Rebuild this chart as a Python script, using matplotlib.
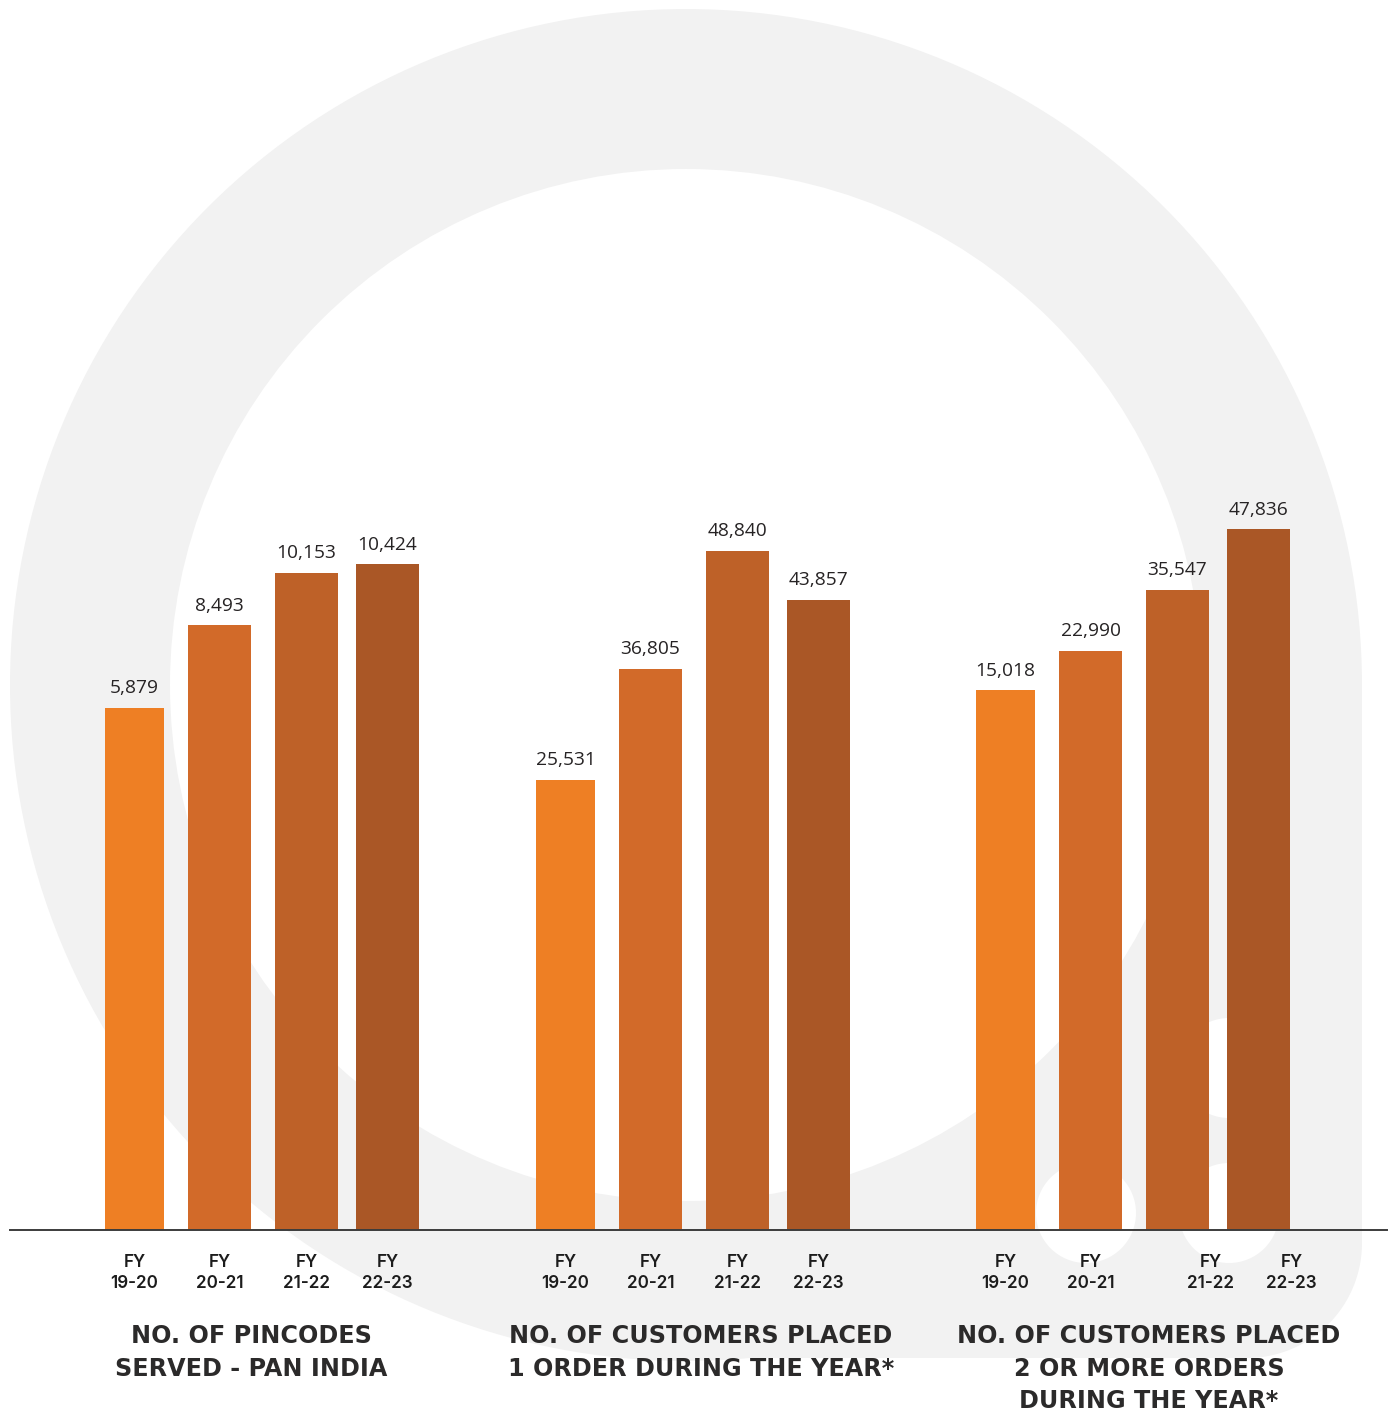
import numpy as np
import matplotlib
matplotlib.use("Agg")
import matplotlib.pyplot as plt
from matplotlib.patches import Circle, Polygon
from matplotlib.lines import Line2D

# ---------------- data ----------------
fiscal_years = ["19-20", "20-21", "21-22", "22-23"]
pincodes_served = [5879, 8493, 10153, 10424]
customers_one_order = [25531, 36805, 48840, 43857]
customers_repeat = [15018, 22990, 35547, 47836]
group_titles = [
    ["NO. OF PINCODES", "SERVED - PAN INDIA"],
    ["NO. OF CUSTOMERS PLACED", "1 ORDER DURING THE YEAR*"],
    ["NO. OF CUSTOMERS PLACED", "2 OR MORE ORDERS", "DURING THE YEAR*"],
]
series = [pincodes_served, customers_one_order, customers_repeat]

# ---------------- layout / style ----------------
W, H = 1392, 1413
BASE = 1230          # baseline pixel row (from top)
AX_TOP = 100         # top of bar axes (pixel row)
bar_colors = ["#EE7F24", "#D26A29", "#BE6128", "#AA5726"]
group_left = [105, 536, 976]
bar_lefts = [0, 83, 170, 251]
bar_widths = [59, 63, 63, 63]
tick_shift = [[0, 0, 0, 0], [0, 0, 0, 0], [0, 0, 33, 33]]
# each panel has its own value axis (independent, non-zero-based scales)
panel_ylims = [(-10640, 25120), (-20260, 94670), (-95100, 135400)]
title_cx = [251, 701, 1149]
title_baselines = [1343, 1376, 1408.5]

GRAY = "#F2F2F2"
TXT = "#262324"

fig = plt.figure(figsize=(W / 100, H / 100), dpi=100)
fig.patch.set_facecolor("white")

# background decorative shape in pixel coordinates
bg = fig.add_axes([0, 0, 1, 1], zorder=0)
bg.set_xlim(0, W)
bg.set_ylim(H, 0)
bg.axis("off")
cx, cy, r_out, r_in = 686, 685, 676, 516
bottom = 1358
R = 115
bg.add_patch(Circle((cx, cy), r_out, facecolor=GRAY, edgecolor="none"))
t = np.linspace(0, np.pi / 2, 40)
arc = np.column_stack([cx + r_out - R + R * np.cos(t), bottom - R + R * np.sin(t)])
verts = np.vstack([[[cx, cy], [cx + r_out, cy]], arc, [[cx, bottom]]])
bg.add_patch(Polygon(verts, closed=True, facecolor=GRAY, edgecolor="none"))
bg.add_patch(Circle((cx, cy), r_in, facecolor="white", edgecolor="none"))
for (px, py) in [(1086, 1213), (1229, 1213), (1229, 1068)]:
    bg.add_patch(Circle((px, py), 50, facecolor="white", edgecolor="none"))

# bar panels
ax_rect = [0, (H - BASE) / H, 1, (BASE - AX_TOP) / H]
for g, vals in enumerate(series):
    ax = fig.add_axes(ax_rect, zorder=1 + g)
    ax.set_facecolor("none")
    ax.set_xlim(0, W)
    lo, hi = panel_ylims[g]
    ax.set_ylim(lo, hi)
    ax.axis("off")
    lefts = [group_left[g] + b for b in bar_lefts]
    vals_arr = np.array(vals, dtype=float)
    # bars rise from the panel floor to their value
    bars = ax.bar(lefts, vals_arr - lo, width=bar_widths, align="edge",
                  bottom=lo, color=bar_colors, linewidth=0)
    for i, (rect, v) in enumerate(zip(bars, vals)):
        xc = rect.get_x() + rect.get_width() / 2
        ax.annotate(f"{v:,}", xy=(xc, v), xytext=(0, 10.5),
                    textcoords="offset points", ha="center", va="baseline",
                    fontsize=13.8, family="Open Sans", color=TXT)
        # category labels
        tx = xc + tick_shift[g][i]
        bg.text(tx, 1267.3, "FY", ha="center", va="baseline", fontsize=12.3,
                family="Inter", fontweight="semibold", color="#1c1c1c")
        bg.text(tx, 1288.3, fiscal_years[i], ha="center", va="baseline",
                fontsize=12.3, family="Inter", fontweight="semibold",
                color="#1c1c1c")
    for j, line in enumerate(group_titles[g]):
        bg.text(title_cx[g], title_baselines[j], line, ha="center", va="baseline",
                fontsize=17.2, family="DejaVu Sans", fontweight="bold",
                color="#2B2A2A")

# baseline across the whole figure
fig.add_artist(Line2D([10 / W, 1387 / W], [(H - BASE) / H] * 2,
                      transform=fig.transFigure, color="#3C3C3C",
                      linewidth=1.4, zorder=10))

fig.savefig("out.png", dpi=100, facecolor="white")
